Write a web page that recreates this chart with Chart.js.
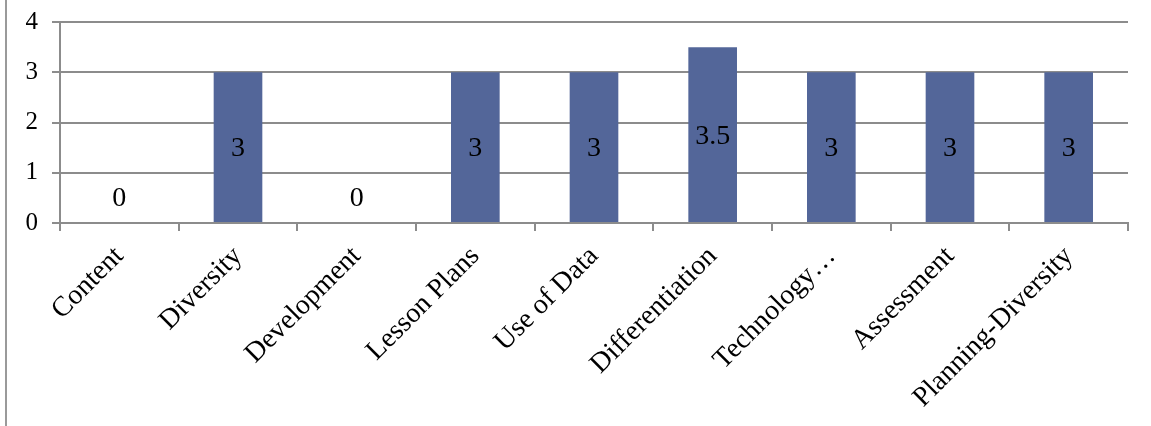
<!DOCTYPE html>
<html lang="en">
<head>
  <meta charset="UTF-8" />
  <title>Scores by area</title>
  <script src="https://cdn.jsdelivr.net/npm/chart.js"></script>
  <style>
    html, body { margin: 0; padding: 0; background: #fff; }
    #wrap { position: relative; width: 1151px; height: 426px; }
    #frame { position: absolute; left: 5px; top: 0; width: 0; height: 426px; border-left: 2px solid #9a9a9a; }
  </style>
</head>
<body>
  <div id="wrap">
    <div id="frame"></div>
    <canvas id="scoreChart" width="1151" height="426"></canvas>
  </div>

  <script>
    // data
    const categories = ['Content', 'Diversity', 'Development', 'Lesson Plans', 'Use of Data',
      'Differentiation', 'Technology…', 'Assessment', 'Planning-Diversity'];
    const scores = [0, 3, 0, 3, 3, 3.5, 3, 3, 3];
    const yTicks = [0, 1, 2, 3, 4];

    const serif = "'Liberation Serif', 'DejaVu Serif', serif";
    const gridGray = '#8c8c8c';

    // values drawn in the middle of each bar, zero values sit just above the axis
    const barLabels = {
      id: 'barLabels',
      afterDatasetsDraw(chart) {
        const ctx = chart.ctx;
        const meta = chart.getDatasetMeta(0);
        ctx.save();
        ctx.font = '28px ' + serif;
        ctx.fillStyle = '#000';
        ctx.textAlign = 'center';
        ctx.textBaseline = 'middle';
        meta.data.forEach((bar, i) => {
          const v = scores[i];
          let y = (bar.y + bar.base) / 2 + 2;
          if (v === 0) y = bar.base - 24;
          ctx.fillText(String(v), bar.x, y);
        });
        ctx.restore();
      }
    };

    new Chart(document.getElementById('scoreChart'), {
      type: 'bar',
      data: {
        labels: categories,
        datasets: [{
          data: scores,
          backgroundColor: '#536699',
          borderWidth: 0,
          categoryPercentage: 1,
          barPercentage: 0.41
        }]
      },
      options: {
        responsive: false,
        animation: false,
        layout: { padding: { left: 8, top: 22, right: 23, bottom: 0 } },
        plugins: {
          legend: { display: false },
          tooltip: { enabled: false }
        },
        scales: {
          x: {
            grid: {
              offset: true,
              drawOnChartArea: false,
              color: gridGray,
              lineWidth: 2,
              tickLength: 8
            },
            border: { color: gridGray, width: 2 },
            ticks: {
              autoSkip: false,
              maxRotation: 45,
              minRotation: 45,
              color: '#000',
              padding: 9,
              font: { family: serif, size: 28 }
            },
            afterFit(scale) { scale.height = 203; }
          },
          y: {
            min: yTicks[0],
            max: yTicks[yTicks.length - 1],
            afterBuildTicks(scale) { scale.ticks = yTicks.map(v => ({ value: v })); },
            grid: { color: gridGray, lineWidth: 2, tickLength: 8 },
            border: { color: gridGray, width: 2 },
            ticks: {
              color: '#000',
              padding: 14,
              font: { family: serif, size: 25 }
            },
            afterFit(scale) {
              scale.width = 52;
              scale.paddingTop = 0;
              scale.paddingBottom = 0;
            }
          }
        }
      },
      plugins: [barLabels]
    });
  </script>
</body>
</html>
